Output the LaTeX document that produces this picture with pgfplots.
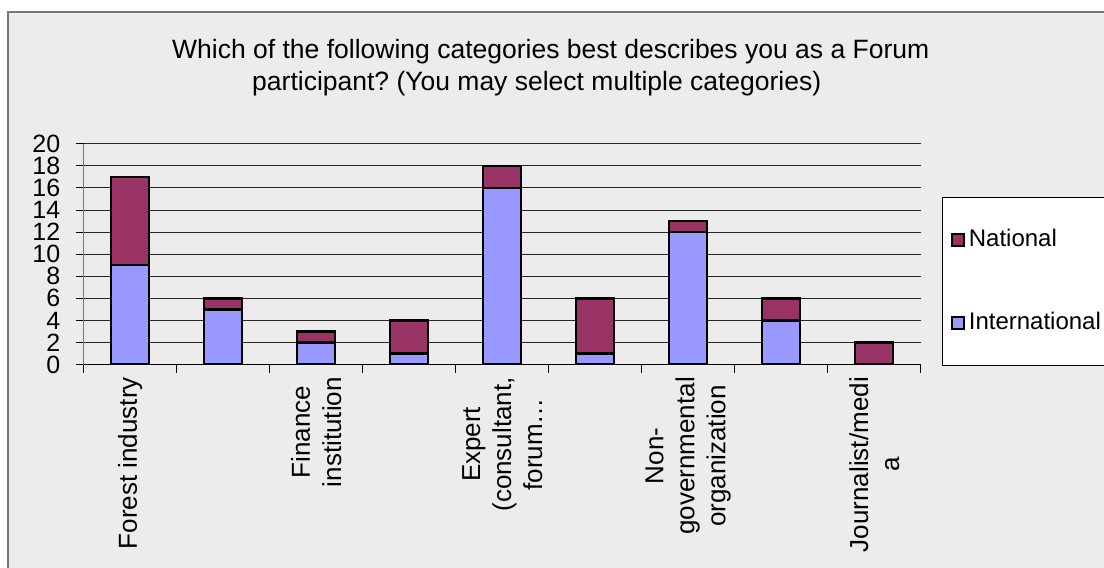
\documentclass[border=0pt]{standalone}
\usepackage{pgfplots}
\pgfplotsset{compat=1.18}
\usepackage{pgfplotstable}
\usepackage{fontspec}
\setmainfont{Liberation Sans}
\frenchspacing

\definecolor{bgcol}{HTML}{ECECEC}
\definecolor{intl}{HTML}{9999FF}
\definecolor{natl}{HTML}{993366}
\definecolor{framecol}{HTML}{777777}

% participants per category
\pgfplotstableread{
x intl natl
1 9  8
2 5  1
3 2  1
4 1  3
5 16 2
6 1  5
7 12 1
8 4  2
9 0  2
}\forumdata

\begin{document}
\begin{tikzpicture}[x=1bp,y=1bp]
\useasboundingbox (0,0) rectangle (1104,568);
\fill[white] (0,0) rectangle (1104,568);
\fill[bgcol] (8,0) rectangle (1104,556);
\draw[framecol, line width=2bp] (8,0) -- (8,556) -- (1104,556);

\begin{axis}[
  at={(90,184)}, anchor=south west,
  scale only axis, width=837bp, height=221bp,
  ybar stacked, bar width=0.41,
  xmin=0.5, xmax=9.5, ymin=0, ymax=20,
  axis x line*=bottom, axis y line*=left,
  x axis line style={black, line width=0.8bp},
  y axis line style={framecol, line width=1bp},
  ytick={0,2,...,20},
  ymajorgrids, grid style={black!85, line width=0.8bp},
  xtick={0.5,1.5,...,9.5}, xticklabels={},
  extra x ticks={1,3,5,7,9},
  extra x tick labels={Forest industry,{Finance\\institution},{Expert\\(consultant,\\forum…},{Non-\\governmental\\organization},{Journalist/medi\\a}},
  extra x tick style={major tick length=0pt, grid=none,
    tick label style={rotate=90, anchor=east, align=center,
      xshift=-9bp, font=\fontsize{26bp}{31bp}\selectfont}},
  tick align=outside, major tick length=8bp,
  tick style={black, line width=0.8bp},
  yticklabel style={xshift=-12bp, font=\fontsize{25bp}{24bp}\selectfont},
  /pgf/number format/assume math mode=true,
  title={Which of the following categories best describes you as a Forum\\participant? (You may select multiple categories)\hspace*{28bp}},
  title style={at={(0.558,1)}, anchor=south, yshift=38bp, align=center,
    font=\fontsize{26.5bp}{32bp}\selectfont},
  reverse legend,
  legend style={at={(1.025,0.76)}, anchor=north west, draw=black, fill=white,
    line width=0.8bp, font=\fontsize{24bp}{28bp}\selectfont,
    inner xsep=9bp, inner ysep=31bp, row sep=60bp,
    nodes={inner sep=0pt, text height=18bp, text depth=5bp},
    cells={anchor=west}},
]
\addplot[fill=intl, draw=black, line width=2.4bp,
  legend image code/.code={\draw[fill=intl, draw=black, line width=1.8bp] (0bp,-6bp) rectangle (12bp,6bp);}]
  table[x=x, y=intl]{\forumdata};
\addlegendentry{\hspace{4bp}International}
\addplot[fill=natl, draw=black, line width=2.4bp,
  legend image code/.code={\draw[fill=natl, draw=black, line width=1.8bp] (0bp,-6bp) rectangle (12bp,6bp);}]
  table[x=x, y=natl]{\forumdata};
\addlegendentry{\hspace{4bp}National}
\end{axis}
\end{tikzpicture}
\end{document}
